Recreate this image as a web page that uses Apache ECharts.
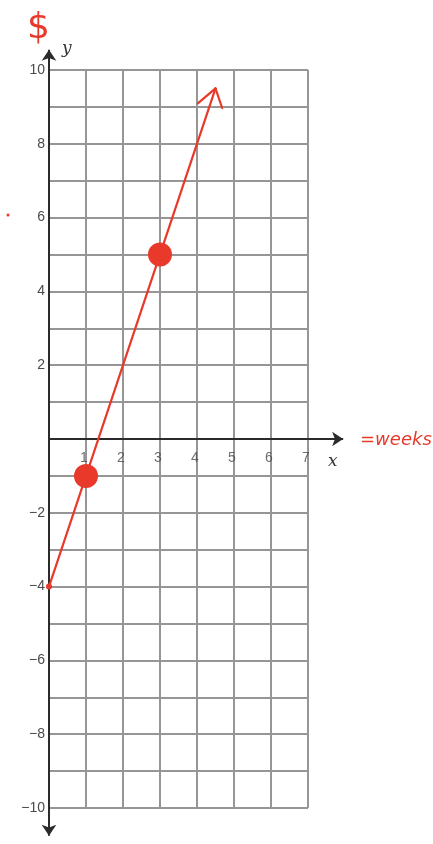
<!DOCTYPE html>
<html>
<head>
<meta charset="utf-8">
<script src="https://cdn.jsdelivr.net/npm/echarts@6/dist/echarts.min.js"></script>
<style>
  html, body { margin: 0; padding: 0; background: #fff; }
  #chart { width: 433px; height: 844px; }
</style>
</head>
<body>
<div id="chart"></div>
<script>
// Plotted points of the line y = 3x - 4
const points = [[1, -1], [3, 5]];
// Line drawn through the points, starting at the y-intercept
const lineStart = [0, -4];
const lineEnd = [4.5, 9.5];
// Hand-drawn arrow head arms at the end of the line
const arrowArms = [[4.03, 9.1], [4.68, 8.97]];

// Axis ranges and labels
const xRange = [0, 7];
const yRange = [-10, 10];
const xTicks = [1, 2, 3, 4, 5, 6, 7];
const xTickLabels = ['1', '2', '3', '4', '5', '6', '7'];
const yTickLabels = ['10', '8', '6', '4', '2', '\u22122', '\u22124', '\u22126', '\u22128', '\u221210'];

// Axis lines extended past the grid with arrow heads
const xAxisLine = [[0, 0], [7.95, 0]];
const yAxisLine = [[0, -10.75], [0, 10.55]];

const RED = '#e8392a';
const AXIS = '#2b2b2b';
const GRIDC = '#969696';
const LABEL = '#4a4a4a';
const FONT = 'Liberation Sans, Arial, sans-serif';

const chart = echarts.init(document.getElementById('chart'), null, { renderer: 'canvas' });

function yLabel(v) {
  const s = v < 0 ? '\u2212' + Math.abs(v) : String(v);
  return yTickLabels.indexOf(s) >= 0 ? s : '';
}

chart.setOption({
  animation: false,
  backgroundColor: '#fff',
  grid: { left: 49, right: 125, top: 70, bottom: 36, containLabel: false },
  xAxis: {
    type: 'value', min: xRange[0], max: xRange[1], interval: 1,
    axisLine: { show: false },
    axisTick: { show: false },
    axisLabel: { show: false },
    splitLine: { show: true, lineStyle: { color: GRIDC, width: 2 } }
  },
  yAxis: {
    type: 'value', min: yRange[0], max: yRange[1], interval: 1,
    axisLine: { show: true, lineStyle: { color: AXIS, width: 2 } },
    axisTick: { show: false },
    axisLabel: { formatter: yLabel, color: LABEL, fontSize: 14, fontFamily: FONT, margin: 4 },
    splitLine: { show: true, lineStyle: { color: GRIDC, width: 2 } }
  },
  series: [
    {
      // x axis through y = 0, extended past the grid with an arrow
      type: 'lines', coordinateSystem: 'cartesian2d', clip: false, z: 3,
      symbol: ['none', 'arrow'], symbolSize: 11,
      lineStyle: { color: AXIS, width: 2, opacity: 1 },
      data: [{ coords: xAxisLine }]
    },
    {
      // y axis with arrows at both ends
      type: 'lines', coordinateSystem: 'cartesian2d', clip: false, z: 3,
      symbol: ['arrow', 'arrow'], symbolSize: 11,
      lineStyle: { color: AXIS, width: 2, opacity: 1 },
      data: [{ coords: yAxisLine }]
    },
    {
      // tick labels sitting just under the x axis
      type: 'scatter', z: 3, symbol: 'circle', symbolSize: 2, silent: true,
      itemStyle: { color: 'rgba(0,0,0,0)' },
      label: {
        show: true, position: 'bottom', distance: 11, offset: [-2, 0],
        color: LABEL, fontSize: 14, fontFamily: FONT,
        formatter: p => xTickLabels[p.dataIndex]
      },
      data: xTicks.map(v => [v, 0])
    },
    {
      // the red line and its open arrow head
      type: 'lines', coordinateSystem: 'cartesian2d', clip: false, z: 4,
      symbol: 'none',
      lineStyle: { color: RED, width: 2.2, opacity: 1, cap: 'round' },
      data: [
        { coords: [lineStart, lineEnd] },
        { coords: [lineEnd, arrowArms[0]] },
        { coords: [lineEnd, arrowArms[1]] }
      ]
    },
    {
      type: 'scatter', z: 5, symbol: 'circle', symbolSize: 24,
      itemStyle: { color: RED, opacity: 1 },
      data: points
    },
    {
      type: 'scatter', z: 5, symbol: 'circle', symbolSize: 6,
      itemStyle: { color: RED, opacity: 1 },
      data: [lineStart]
    }
  ],
  graphic: [
    { type: 'text', left: 62, top: 40, style: { text: 'y', fontSize: 17, fontStyle: 'italic', fontFamily: 'DejaVu Serif, serif', fill: '#333' } },
    { type: 'text', left: 328, top: 453, style: { text: 'x', fontSize: 17, fontStyle: 'italic', fontFamily: 'DejaVu Serif, serif', fill: '#333' } },
    { type: 'text', left: 27, top: 11, style: { text: '$', fontSize: 36, fontFamily: 'DejaVu Sans, sans-serif', fill: RED } },
    { type: 'text', left: 360, top: 431, style: { text: '=weeks', fontSize: 18, fontStyle: 'italic', fontFamily: 'DejaVu Sans, sans-serif', fill: RED } },
    { type: 'circle', shape: { cx: 8, cy: 215, r: 1.5 }, style: { fill: RED } }
  ]
});
</script>
</body>
</html>
